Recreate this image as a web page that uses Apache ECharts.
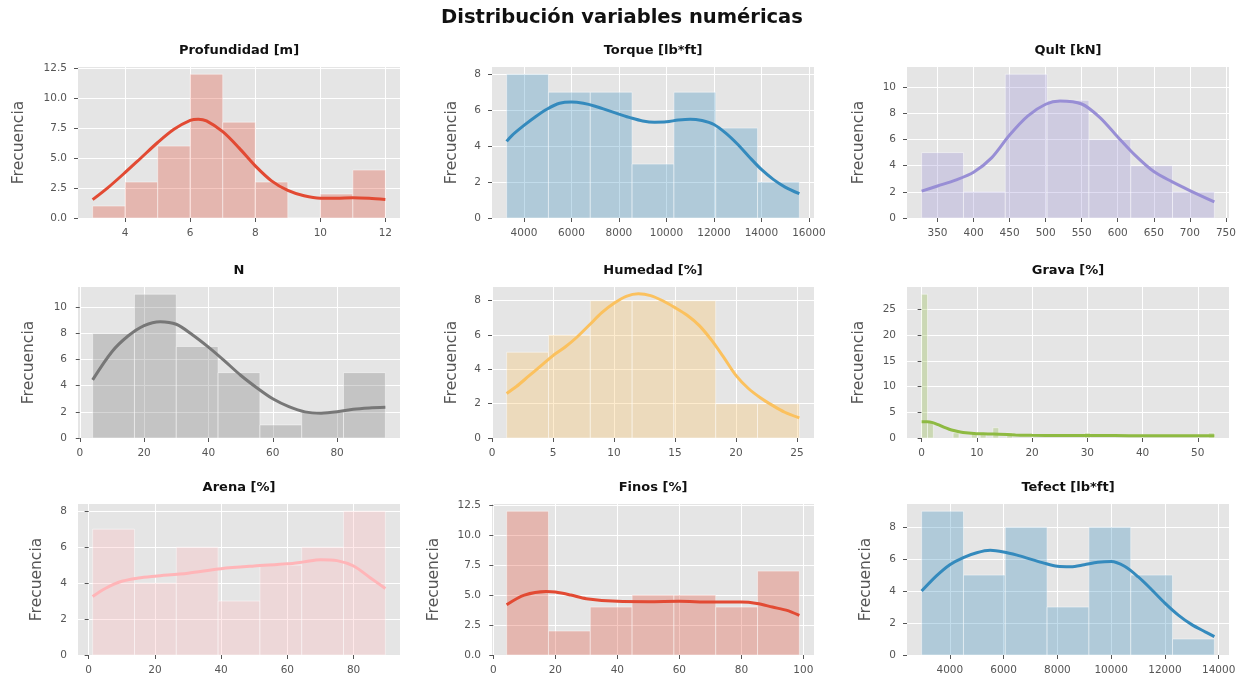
<!DOCTYPE html>
<html><head><meta charset="utf-8">
<script src="https://cdn.jsdelivr.net/npm/echarts@6/dist/echarts.min.js"></script>
<style>html,body{margin:0;padding:0;background:#fff}#c{width:1242px;height:681px}</style>
</head><body><div id="c"></div>
<script>
// ---------- DATA ----------
const mainTitle = 'Distribución variables numéricas';
const yLabel = 'Frecuencia';
const titles = ['Profundidad [m]','Torque [lb*ft]','Qult [kN]','N','Humedad [%]','Grava [%]','Arena [%]','Finos [%]','Tefect [lb*ft]'];
const colors = ['#E24A33','#348ABD','#988ED5','#777777','#FBC15E','#8EBA42','#FFB5B8','#E24A33','#348ABD'];

// Profundidad
const profEdges = [3,4,5,6,7,8,9,10,11,12];
const profCounts = [1,3,6,12,8,3,0,2,4];
const profKdeX = [3,3.5,4,4.5,5,5.5,6,6.25,6.5,7,7.5,8,8.5,9,9.5,10,10.5,11,11.5,12];
const profKdeY = [1.53,2.6,3.8,5.05,6.3,7.4,8.15,8.25,8.1,7.2,5.85,4.35,3.1,2.3,1.85,1.65,1.65,1.7,1.65,1.55];
// Torque
const torqEdges = [3270,5031,6793,8554,10316,12077,13839,15600];
const torqCounts = [8,7,7,3,7,5,2];
const torqKdeX = [3270,3500,4000,4500,5000,5500,6000,6500,7000,7500,8000,8500,9000,9500,10000,10500,11000,11500,12000,12500,13000,13500,14000,14500,15000,15600];
const torqKdeY = [4.26,4.6,5.15,5.65,6.08,6.38,6.45,6.38,6.22,6.0,5.78,5.57,5.4,5.33,5.35,5.45,5.5,5.42,5.2,4.72,4.1,3.38,2.7,2.15,1.72,1.35];
// Qult
const qultEdges = [328,386,444,502,560,618,676,734];
const qultCounts = [5,2,11,9,6,4,2];
const qultKdeX = [328,350,375,400,425,450,475,500,520,550,575,600,625,650,675,700,734];
const qultKdeY = [2.05,2.45,2.9,3.5,4.6,6.35,7.8,8.7,8.95,8.72,7.7,6.2,4.75,3.55,2.78,2.1,1.23];
// N
const nEdges = [4,17,30,43,56,69,82,95];
const nCounts = [8,11,7,5,1,2,5];
const nKdeX = [4,10,15,20,25,30,35,40,45,50,55,60,65,70,75,80,85,90,95];
const nKdeY = [4.45,6.6,7.8,8.6,8.9,8.7,7.9,6.95,5.9,4.8,3.85,3.0,2.4,2.0,1.9,2.0,2.2,2.3,2.35];
// Humedad
const humEdges = [1.2,4.63,8.06,11.49,14.91,18.34,21.77,25.2];
const humCounts = [5,6,8,8,8,2,2];
const humKdeX = [1.2,2,3,4,5,6,7,8,9,10,11,12,13,14,15,16,17,18,19,20,21,22,23,24,25.2];
const humKdeY = [2.6,3.0,3.6,4.2,4.8,5.3,5.9,6.6,7.3,7.85,8.25,8.4,8.3,8.0,7.6,7.15,6.55,5.7,4.7,3.65,2.9,2.35,1.9,1.5,1.17];
// Grava (non-empty bins only)
const gravaLeft  = [0,1.06,5.7,9.0,10.6,12.9,15.4,29.5,51.9];
const gravaRight = [1.06,2.12,6.76,10.06,11.66,13.96,16.46,30.56,53];
const gravaCounts = [28,3,1,1,1,2,1,1,1];
const gravaKdeX = [0,1,2,3,4,5,6,7,8,10,12,14,17,20,25,30,35,40,45,50,53];
const gravaKdeY = [3.15,3.15,3.0,2.6,2.1,1.7,1.4,1.15,1.0,0.85,0.8,0.72,0.6,0.52,0.48,0.5,0.47,0.44,0.44,0.45,0.45];
// Arena
const arenaEdges = [1.2,13.83,26.46,39.09,51.71,64.34,76.97,89.6];
const arenaCounts = [7,4,6,3,5,6,8];
const arenaKdeX = [1.2,5,10,15,20,30,40,50,60,65,70,75,80,85,89.6];
const arenaKdeY = [3.25,3.7,4.1,4.28,4.38,4.55,4.8,4.95,5.07,5.18,5.3,5.25,4.95,4.3,3.7];
// Finos
const finosEdges = [4.3,17.79,31.27,44.76,58.24,71.73,85.21,98.7];
const finosCounts = [12,2,4,5,5,4,7];
const finosKdeX = [4.3,10,17,20,25,30,40,50,60,70,80,85,90,95,98.7];
const finosKdeY = [4.2,5.0,5.3,5.25,5.0,4.7,4.48,4.45,4.48,4.42,4.42,4.3,4.0,3.7,3.3];
// Tefect
const tefEdges = [2950,4506,6061,7617,9173,10729,12284,13840];
const tefCounts = [9,5,8,3,8,5,1];
const tefKdeX = [2950,3500,4000,4500,5000,5500,6000,6500,7000,7500,8000,8500,9000,9500,10000,10500,11000,11500,12000,12500,13000,13500,13840];
const tefKdeY = [4.0,4.95,5.65,6.1,6.4,6.55,6.45,6.25,6.0,5.75,5.55,5.52,5.65,5.8,5.85,5.55,4.9,4.1,3.25,2.5,1.9,1.45,1.15];

// tick labels
const xTicks = [
  [4,6,8,10,12],
  [4000,6000,8000,10000,12000,14000,16000],
  [350,400,450,500,550,600,650,700,750],
  [0,20,40,60,80],
  [0,5,10,15,20,25],
  [0,10,20,30,40,50],
  [0,20,40,60,80],
  [0,20,40,60,80,100],
  [4000,6000,8000,10000,12000,14000]
];
const yTicks = [
  [0,2.5,5,7.5,10,12.5],
  [0,2,4,6,8],
  [0,2,4,6,8,10],
  [0,2,4,6,8,10],
  [0,2,4,6,8],
  [0,5,10,15,20,25],
  [0,2,4,6,8],
  [0,2.5,5,7.5,10,12.5],
  [0,2,4,6,8]
];
const yMaxes = [12.6,8.4,11.55,11.55,8.8,29.4,8.4,12.6,9.45];

// ---------- BUILD ----------
function binsFromEdges(e, c){ return c.map((v,i)=>[e[i], e[i+1], v]); }
const panels = [
  {bins: binsFromEdges(profEdges, profCounts), kx: profKdeX, ky: profKdeY},
  {bins: binsFromEdges(torqEdges, torqCounts), kx: torqKdeX, ky: torqKdeY},
  {bins: binsFromEdges(qultEdges, qultCounts), kx: qultKdeX, ky: qultKdeY},
  {bins: binsFromEdges(nEdges, nCounts), kx: nKdeX, ky: nKdeY},
  {bins: binsFromEdges(humEdges, humCounts), kx: humKdeX, ky: humKdeY},
  {bins: gravaCounts.map((v,i)=>[gravaLeft[i], gravaRight[i], v]), kx: gravaKdeX, ky: gravaKdeY},
  {bins: binsFromEdges(arenaEdges, arenaCounts), kx: arenaKdeX, ky: arenaKdeY},
  {bins: binsFromEdges(finosEdges, finosCounts), kx: finosKdeX, ky: finosKdeY},
  {bins: binsFromEdges(tefEdges, tefCounts), kx: tefKdeX, ky: tefKdeY}
];

const colLeft = [78, 492, 907], colWidth = 322;
const rowTop = [67, 287, 504], rowHeight = 151;
const nameGaps = [51, 32, 40, 41, 32, 40, 33, 50, 33];
const FONT = 'DejaVu Sans';
const TICKC = '#555555';

function rgba(hex, a){
  const n = parseInt(hex.slice(1),16);
  return 'rgba(' + ((n>>16)&255) + ',' + ((n>>8)&255) + ',' + (n&255) + ',' + a + ')';
}

const grid = [], xAxis = [], yAxis = [], series = [], graphic = [];
graphic.push({type:'text', x: 622, y: 18, style:{text: mainTitle, font: 'bold 19.5px "DejaVu Sans"', fill:'#111', align:'center', verticalAlign:'middle'}});

panels.forEach((p, i) => {
  const r = Math.floor(i/3), c = i%3;
  const left = colLeft[c], top = rowTop[r];
  grid.push({left: left, top: top, width: colWidth, height: rowHeight, show: true, backgroundColor: '#E5E5E5', borderWidth: 0, containLabel: false});
  const lo = p.bins[0][0], hi = p.bins[p.bins.length-1][1];
  const span = hi - lo;
  const oneDec = (i === 0 || i === 7);
  xAxis.push({
    type: 'value', gridIndex: i, min: lo - 0.05*span, max: hi + 0.05*span,
    axisLine: {show: false},
    axisTick: {show: true, length: 4, lineStyle: {color: TICKC, width: 1}, customValues: xTicks[i]},
    axisLabel: {show: true, color: TICKC, fontSize: 10.5, fontFamily: FONT, margin: 10, customValues: xTicks[i], formatter: v => String(v)},
    splitLine: {show: true, lineStyle: {color: '#ffffff', width: 1}}
  });
  yAxis.push({
    type: 'value', gridIndex: i, min: 0, max: yMaxes[i],
    name: yLabel, nameLocation: 'middle', nameGap: nameGaps[i], nameRotate: 90,
    nameTextStyle: {color: TICKC, fontSize: 15.5, fontFamily: FONT},
    axisLine: {show: false},
    axisTick: {show: true, length: 4, lineStyle: {color: TICKC, width: 1}, customValues: yTicks[i]},
    axisLabel: {show: true, color: TICKC, fontSize: 10.5, fontFamily: FONT, margin: 11, customValues: yTicks[i], formatter: v => oneDec ? Number(v).toFixed(1) : String(v)},
    splitLine: {show: true, lineStyle: {color: '#ffffff', width: 1}}
  });
  const col = colors[i];
  series.push({
    type: 'custom', xAxisIndex: i, yAxisIndex: i, clip: true,
    encode: {x: [0,1], y: 2},
    data: p.bins,
    renderItem: function(params, api){
      const p0 = api.coord([api.value(0), 0]);
      const p1 = api.coord([api.value(1), api.value(2)]);
      return {type: 'rect', shape: {x: p0[0], y: p1[1], width: p1[0]-p0[0], height: p0[1]-p1[1]},
        style: {fill: rgba(col, 0.3), stroke: 'rgba(255,255,255,0.45)', lineWidth: 1}};
    },
    z: 2
  });
  series.push({
    type: 'line', xAxisIndex: i, yAxisIndex: i, showSymbol: false, smooth: 0.3,
    data: p.kx.map((x, k) => [x, p.ky[k]]),
    lineStyle: {color: col, width: 3}, itemStyle: {color: col}, z: 3
  });
  graphic.push({type:'text', x: left + colWidth/2, y: top - 16, style:{text: titles[i], font: 'bold 13px "DejaVu Sans"', fill:'#111', align:'center', verticalAlign:'middle'}});
});

const chart = echarts.init(document.getElementById('c'), null, {renderer: 'canvas'});
chart.setOption({animation: false, backgroundColor: '#ffffff', grid, xAxis, yAxis, series, graphic});
</script>
</body></html>
